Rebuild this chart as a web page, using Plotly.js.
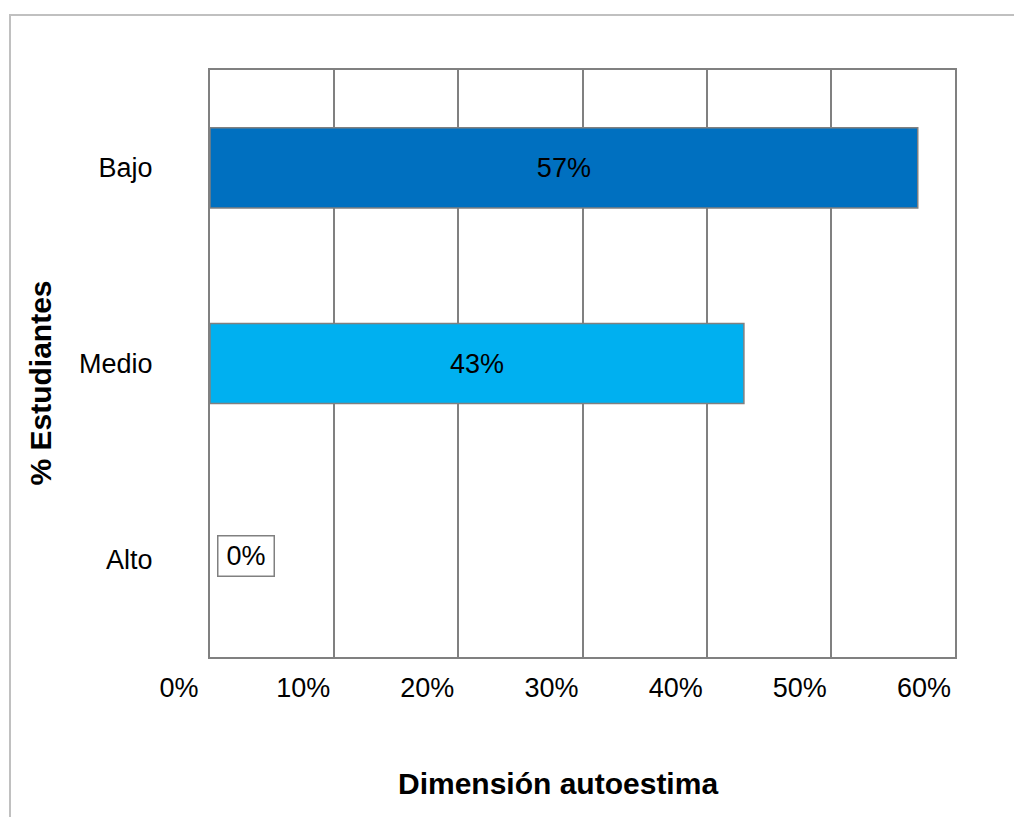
<!DOCTYPE html>
<html>
<head>
<meta charset="utf-8">
<script src="https://cdn.plot.ly/plotly-3.0.1.min.js"></script>
<style>
  html, body { margin: 0; padding: 0; background: #ffffff; overflow: hidden; }
  #chart { position: absolute; left: 0; top: 0; width: 1014px; height: 817px; }
  #frame { position: absolute; left: 9px; top: 14px; width: 2000px; height: 2000px;
           border-left: 2px solid #c0c0c0; border-top: 2px solid #c0c0c0; pointer-events: none; }
</style>
</head>
<body>
<div id="chart"></div>
<div id="frame"></div>
<script>
// Data
const categories = ['Bajo', 'Medio', 'Alto'];
const values = [0.57, 0.43, 0.00];
const barColors = ['#0070C0', '#00B0F0', '#00B0F0'];
const xTickValues = [0, 0.1, 0.2, 0.3, 0.4, 0.5, 0.6];
const xTickLabels = ['0%', '10%', '20%', '30%', '40%', '50%', '60%'];
const xTitle = 'Dimensión autoestima';
const yTitle = '% Estudiantes';

const fmt = v => Math.round(v * 100) + '%';
const barText = values.map(v => v > 0 ? fmt(v) : '');
const barLineWidths = values.map(v => v > 0 ? 1.5 : 0);

const FONT = 'Liberation Sans, Arial, sans-serif';
const GRID = '#808080';
const LBL = 27;

const trace = {
  type: 'bar',
  orientation: 'h',
  y: categories,
  x: values,
  width: 0.41,
  marker: { color: barColors, line: { color: '#808080', width: barLineWidths } },
  text: barText,
  textposition: 'inside',
  insidetextanchor: 'middle',
  textfont: { family: FONT, size: LBL, color: '#000000' },
  hoverinfo: 'none'
};

const annotations = [];
// Zero-valued labels drawn as boxed annotations
values.forEach((v, i) => {
  if (v === 0) {
    annotations.push({
      x: v, y: categories[i], xref: 'x', yref: 'y',
      text: fmt(v), showarrow: false,
      xanchor: 'left', yanchor: 'middle', xshift: 7, yshift: 3,
      font: { family: FONT, size: LBL, color: '#000000' },
      bordercolor: '#808080', borderwidth: 1.5, borderpad: 5,
      width: 45, height: 29, bgcolor: '#ffffff'
    });
  }
});
// Axis titles
annotations.push({
  x: 0.5, y: 0, xref: 'paper', yref: 'paper', xanchor: 'center', yanchor: 'middle',
  xshift: -25, yshift: -126, showarrow: false,
  text: '<b>' + xTitle + '</b>',
  font: { family: FONT, size: 30, color: '#000000' }
});
annotations.push({
  x: 0, y: 0.5, xref: 'paper', yref: 'paper', xanchor: 'center', yanchor: 'middle',
  xshift: -170, yshift: -20, showarrow: false, textangle: -90,
  text: '<b>' + yTitle + '</b>',
  font: { family: FONT, size: 30, color: '#000000' }
});

const layout = {
  width: 1014,
  height: 817,
  margin: { l: 210, r: 59, t: 70, b: 160 },
  paper_bgcolor: 'rgba(0,0,0,0)',
  plot_bgcolor: '#ffffff',
  showlegend: false,
  font: { family: FONT, size: LBL, color: '#000000' },
  xaxis: {
    range: [0, 0.6],
    tickvals: xTickValues,
    ticktext: xTickLabels,
    ticks: '',
    ticklabelshift: -31,
    ticklabelstandoff: 6,
    showgrid: true, gridcolor: GRID, gridwidth: 2,
    zeroline: false,
    showline: true, linecolor: GRID, linewidth: 2, mirror: true,
    tickfont: { family: FONT, size: LBL, color: '#000000' },
    fixedrange: true
  },
  yaxis: {
    type: 'category',
    autorange: 'reversed',
    ticks: '',
    ticklabelstandoff: 50,
    showgrid: false,
    zeroline: false,
    showline: true, linecolor: GRID, linewidth: 2, mirror: true,
    tickfont: { family: FONT, size: LBL, color: '#000000' },
    fixedrange: true
  },
  annotations: annotations
};

Plotly.newPlot('chart', [trace], layout, { displayModeBar: false, staticPlot: true });
</script>
</body>
</html>
